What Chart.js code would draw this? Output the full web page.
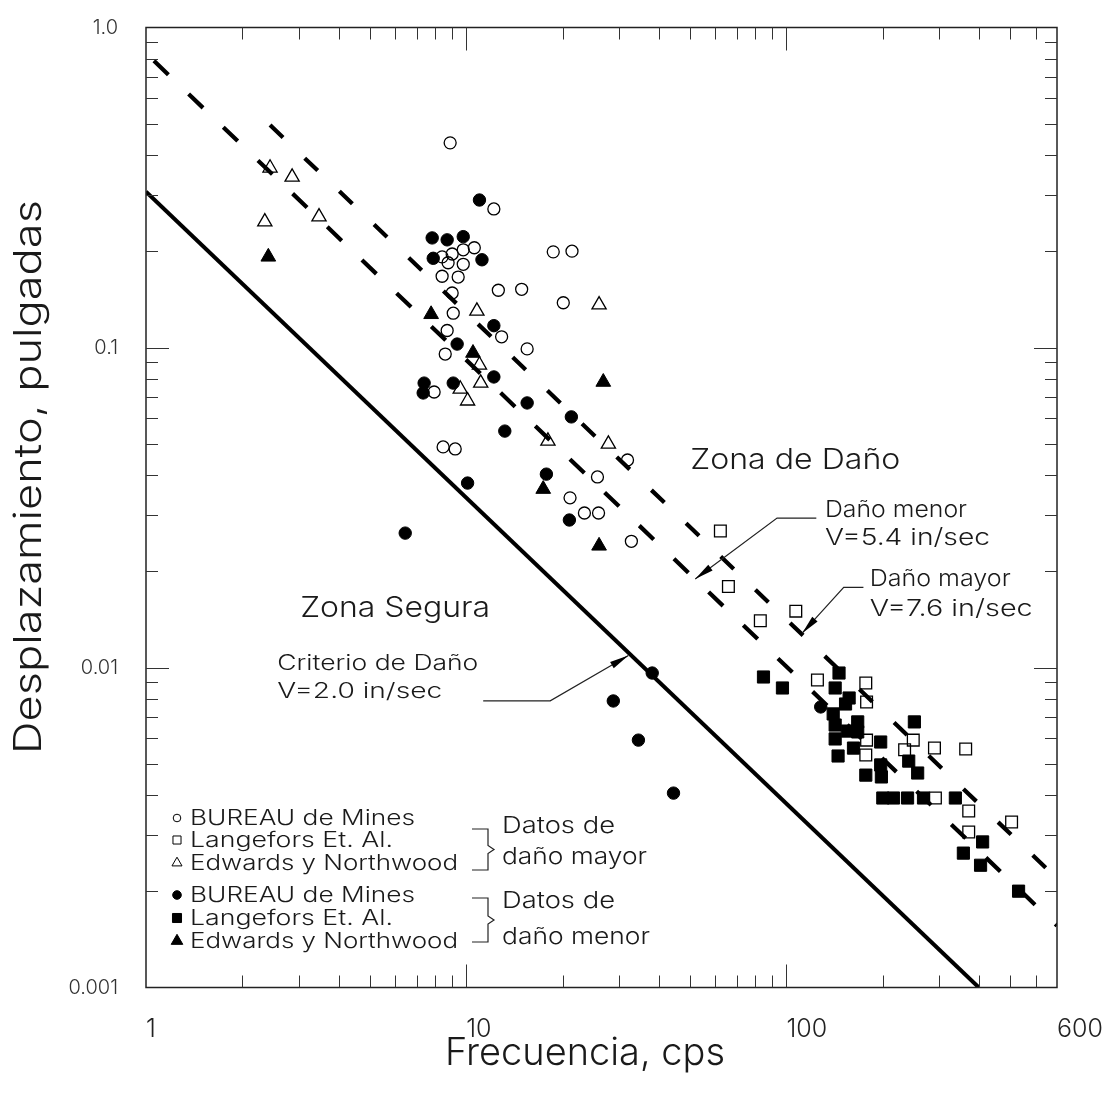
<!DOCTYPE html>
<html>
<head>
<meta charset="utf-8">
<script src="https://cdn.jsdelivr.net/npm/chart.js@4.4.1/dist/chart.umd.min.js"></script>
<style>
  html, body { margin: 0; padding: 0; background: #fff; }
  #wrap { width: 1112px; height: 1094px; position: relative; }
</style>
</head>
<body>
<div id="wrap"><canvas id="myChart"></canvas></div>
<script>
// frecuencia (cps) / desplazamiento (pulgadas)
const bureauMayorF = [8.91, 12.2, 18.7, 21.4, 8.41, 9.04, 9.79, 10.6, 8.78, 9.79, 8.41, 9.44, 9.04, 12.6, 14.9,
  20.1, 9.11, 8.72, 12.9, 15.5, 8.60, 7.94, 8.47, 9.24, 31.9, 25.7, 21.1, 23.4, 25.9, 32.8];
const bureauMayorD = [0.436, 0.271, 0.199, 0.200, 0.192, 0.196, 0.202, 0.205, 0.184, 0.182, 0.167, 0.166, 0.148, 0.151, 0.152,
  0.138, 0.128, 0.113, 0.108, 0.099, 0.0954, 0.0726, 0.0489, 0.0482, 0.0445, 0.0394, 0.0339, 0.0304, 0.0304, 0.0248];

const langeforsMayorF = [62.2, 65.9, 107, 82.9, 125, 177, 178, 178, 177, 234, 249, 290, 363, 292, 371, 371, 505];
const langeforsMayorD = [0.0267, 0.0179, 0.0150, 0.0140, 0.00914, 0.00895, 0.00780, 0.00593, 0.00533, 0.00553, 0.00593,
  0.00560, 0.00556, 0.00391, 0.00356, 0.00306, 0.00329];

const edwardsMayorF = [2.44, 2.86, 2.35, 3.47, 10.8, 26.0, 11.0, 11.1, 9.58, 10.1, 18.0, 27.8];
const edwardsMayorD = [0.364, 0.341, 0.247, 0.256, 0.130, 0.136, 0.0882, 0.0774, 0.0742, 0.0681, 0.0510, 0.0499];

const bureauMenorF = [11.0, 7.83, 8.72, 9.79, 7.89, 11.2, 12.2, 9.37, 7.39, 7.34, 9.11, 12.2, 15.5, 21.3, 13.2, 10.1,
  17.8, 21.0, 6.45, 38.1, 28.8, 34.5, 44.4, 128];
const bureauMenorD = [0.289, 0.220, 0.217, 0.222, 0.190, 0.188, 0.117, 0.1025, 0.0774, 0.0721, 0.0774, 0.0809, 0.0671,
  0.0607, 0.0548, 0.0377, 0.0402, 0.0289, 0.0263, 0.00961, 0.00786, 0.00593, 0.00405, 0.00753];

const langeforsMenorF = [84.8, 97.2, 146, 142, 157, 153, 140, 142, 167, 155, 167, 142, 197, 162, 145, 197, 177, 198,
  251, 241, 257, 200, 216, 239, 268, 337, 410, 357, 404, 531];
const langeforsMenorD = [0.00934, 0.00863, 0.00961, 0.00863, 0.00803, 0.00769, 0.00716, 0.00661, 0.00676, 0.00633,
  0.00629, 0.00598, 0.00585, 0.00560, 0.00529, 0.00496, 0.00461, 0.00455, 0.00676, 0.00510, 0.00468, 0.00391,
  0.00391, 0.00391, 0.00391, 0.00391, 0.00285, 0.00263, 0.00241, 0.00200];

const edwardsMenorF = [2.41, 7.77, 10.5, 26.8, 17.4, 26.0];
const edwardsMenorD = [0.192, 0.127, 0.0961, 0.0780, 0.0361, 0.0240];

// rectas de criterio
const criterioF = [1, 399];
const criterioD = [0.307, 0.001];
const menorF = [1, 700];
const menorD = [0.831, 0.00156];
const mayorF = [2.44, 700];
const mayorD = [0.496, 0.00219];

// escalas
const xTickVals = [1, 10, 100, 700];
const xTickLabels = ['1', '10', '100', '600'];
const yTickVals = [0.001, 0.01, 0.1, 1];
const yTickLabels = ['0.001', '0.01', '0.1', '1.0'];
const xMinorTicks = [2, 3, 4, 5, 6, 7, 8, 9, 20, 30, 40, 50, 60, 70, 80, 90, 200, 300, 400, 500, 600];
const xMajorTicks = [10, 100];
const yMinorTicks = [0.002, 0.003, 0.004, 0.005, 0.006, 0.007, 0.008, 0.009, 0.02, 0.03, 0.04, 0.05, 0.06, 0.07,
  0.08, 0.09, 0.2, 0.3, 0.4, 0.5, 0.6, 0.7, 0.8, 0.9];
const yMajorTicks = [0.01, 0.1];

const FONT = '"Inter", "DejaVu Sans", sans-serif';
const WEIGHT = '300';

function pts(fs, ds) {
  return fs.map((f, i) => ({x: f, y: ds[i]}));
}

// textos y flechas dentro del grafico (en unidades de los ejes); w = ancho en el original
const notas = [
  {f: 50.1, d: 0.0417, txt: 'Zona de Daño', size: 29, w: 210},
  {f: 3.03, d: 0.0144, txt: 'Zona Segura', size: 29, w: 190},
  {f: 132, d: 0.0295, txt: 'Daño menor', size: 23, w: 142},
  {f: 132, d: 0.0241, txt: 'V=5.4 in/sec', size: 23, w: 165},
  {f: 182, d: 0.0180, txt: 'Daño mayor', size: 23, w: 141},
  {f: 182, d: 0.0145, txt: 'V=7.6 in/sec', size: 23, w: 163},
  {f: 2.57, d: 0.00982, txt: 'Criterio de Daño', size: 21, w: 201},
  {f: 2.57, d: 0.00803, txt: 'V=2.0 in/sec', size: 21, w: 165}
];
const flechas = [
  [[124, 0.0293], [93.5, 0.0293], [51.9, 0.0189]],
  [[174, 0.0178], [151, 0.0178], [112, 0.0128]],
  [[11.3, 0.00787], [18.3, 0.00787], [32.1, 0.0109]]
];

const leyenda = [
  {style: 'circle', fill: false, r: 3.8, txt: 'BUREAU de Mines', y: 825, w: 225},
  {style: 'rect', fill: false, r: 5.7, txt: 'Langefors Et. Al.', y: 847, w: 203},
  {style: 'triangle', fill: false, r: 5.8, txt: 'Edwards y Northwood', y: 870, w: 268},
  {style: 'circle', fill: true, r: 4.3, txt: 'BUREAU de Mines', y: 902, w: 225},
  {style: 'rect', fill: true, r: 6.4, txt: 'Langefors Et. Al.', y: 925, w: 203},
  {style: 'triangle', fill: true, r: 6.7, txt: 'Edwards y Northwood', y: 948, w: 268}
];
const llaves = [
  {top: 829, bottom: 870, l1: 'Datos de', l2: 'daño mayor', y1: 833, y2: 864, w2: 145},
  {top: 898, bottom: 942, l1: 'Datos de', l2: 'daño menor', y1: 908, y2: 944, w2: 148}
];

// texto con el ancho ajustado al del original
function texto(ctx, txt, x, y, size, w) {
  ctx.font = `${WEIGHT} ${size}px ${FONT}`;
  const s = w ? w / ctx.measureText(txt).width : 1;
  ctx.save();
  ctx.translate(x, y);
  ctx.scale(s, 1);
  ctx.fillText(txt, 0, 0);
  ctx.restore();
}

const decor = {
  id: 'decor',
  afterDatasetsDraw(chart) {
    const {ctx, chartArea: a, scales} = chart;
    const px = f => scales.x.getPixelForValue(f);
    const py = d => scales.y.getPixelForValue(d);
    const seg = (x1, y1, x2, y2) => { ctx.beginPath(); ctx.moveTo(x1, y1); ctx.lineTo(x2, y2); ctx.stroke(); };
    ctx.save();

    // marco
    ctx.strokeStyle = '#222';
    ctx.lineWidth = 1.5;
    ctx.strokeRect(a.left, a.top, a.right - a.left, a.bottom - a.top);

    // marcas hacia adentro en los cuatro lados
    ctx.lineWidth = 1;
    ctx.strokeStyle = '#333';
    const xt = (v, len) => { const p = Math.round(px(v)) + 0.5; seg(p, a.bottom, p, a.bottom - len); seg(p, a.top, p, a.top + len); };
    const yt = (v, len) => { const p = Math.round(py(v)) + 0.5; seg(a.left, p, a.left + len, p); seg(a.right, p, a.right - len, p); };
    xMinorTicks.forEach(v => xt(v, 12));
    xMajorTicks.forEach(v => xt(v, 23));
    yMinorTicks.forEach(v => yt(v, 12));
    yMajorTicks.forEach(v => yt(v, 23));

    // textos
    ctx.fillStyle = '#1a1a1a';
    ctx.textAlign = 'left';
    ctx.textBaseline = 'alphabetic';
    notas.forEach(n => texto(ctx, n.txt, px(n.f), py(n.d), n.size, n.w));

    // flechas
    ctx.strokeStyle = '#222';
    ctx.lineWidth = 1.2;
    flechas.forEach(fl => {
      const p = fl.map(q => [px(q[0]), py(q[1])]);
      ctx.beginPath();
      ctx.moveTo(p[0][0], p[0][1]);
      p.slice(1).forEach(q => ctx.lineTo(q[0], q[1]));
      ctx.stroke();
      const [tx, ty] = p[p.length - 1];
      const [sx, sy] = p[p.length - 2];
      const ang = Math.atan2(ty - sy, tx - sx);
      ctx.save();
      ctx.translate(tx, ty);
      ctx.rotate(ang);
      ctx.beginPath();
      ctx.moveTo(0, 0);
      ctx.lineTo(-19, -3.6);
      ctx.lineTo(-19, 3.6);
      ctx.closePath();
      ctx.fillStyle = '#000';
      ctx.fill();
      ctx.restore();
    });

    // leyenda
    leyenda.forEach(l => {
      ctx.fillStyle = l.fill ? '#000' : 'rgba(0,0,0,0)';
      ctx.strokeStyle = '#000';
      ctx.lineWidth = 1;
      Chart.helpers.drawPoint(ctx, {pointStyle: l.style, radius: l.r, borderWidth: 1, rotation: 0}, 177, l.y - 7);
      ctx.fillStyle = '#1a1a1a';
      texto(ctx, l.txt, 190, l.y, 21, l.w);
    });
    ctx.strokeStyle = '#222';
    ctx.lineWidth = 1.2;
    llaves.forEach(k => {
      const mid = (k.top + k.bottom) / 2;
      ctx.beginPath();
      ctx.moveTo(472, k.top);
      ctx.lineTo(488, k.top);
      ctx.lineTo(488, mid - 4);
      ctx.lineTo(494, mid);
      ctx.lineTo(488, mid + 4);
      ctx.lineTo(488, k.bottom);
      ctx.lineTo(472, k.bottom);
      ctx.stroke();
      ctx.fillStyle = '#1a1a1a';
      texto(ctx, k.l1, 502, k.y1, 23, 113);
      texto(ctx, k.l2, 502, k.y2, 23, k.w2);
    });

    // titulos de los ejes
    ctx.fillStyle = '#1a1a1a';
    texto(ctx, 'Frecuencia, cps', 445, 1065, 38, 280);
    ctx.save();
    ctx.translate(30, 477);
    ctx.rotate(-Math.PI / 2);
    ctx.textBaseline = 'middle';
    texto(ctx, 'Desplazamiento, pulgadas', -277, 0, 38, 554);
    ctx.restore();

    ctx.restore();
  }
};

const abierto = {showLine: false, borderColor: '#000', backgroundColor: 'rgba(0,0,0,0)', borderWidth: 1.3};
const lleno = {showLine: false, borderColor: '#000', backgroundColor: '#000', borderWidth: 1};

const chart = new Chart(document.getElementById('myChart'), {
  type: 'scatter',
  data: {
    datasets: [
      {label: 'V=2.0 in/sec', data: pts(criterioF, criterioD), showLine: true, borderColor: '#000', borderWidth: 4, pointRadius: 0},
      {label: 'V=5.4 in/sec', data: pts(menorF, menorD), showLine: true, borderColor: '#000', borderWidth: 4.2,
        borderDash: [20, 28], borderDashOffset: 37, pointRadius: 0},
      {label: 'V=7.6 in/sec', data: pts(mayorF, mayorD), showLine: true, borderColor: '#000', borderWidth: 4.2,
        borderDash: [18, 30], pointRadius: 0},
      {label: 'BUREAU de Mines (mayor)', data: pts(bureauMayorF, bureauMayorD), ...abierto, pointStyle: 'circle', pointRadius: 6},
      {label: 'Langefors Et. Al. (mayor)', data: pts(langeforsMayorF, langeforsMayorD), ...abierto, pointStyle: 'rect', pointRadius: 8.3},
      {label: 'Edwards y Northwood (mayor)', data: pts(edwardsMayorF, edwardsMayorD), ...abierto, pointStyle: 'triangle', pointRadius: 8.2},
      {label: 'BUREAU de Mines (menor)', data: pts(bureauMenorF, bureauMenorD), ...lleno, pointStyle: 'circle', pointRadius: 6.2},
      {label: 'Langefors Et. Al. (menor)', data: pts(langeforsMenorF, langeforsMenorD), ...lleno, pointStyle: 'rect', pointRadius: 8.6},
      {label: 'Edwards y Northwood (menor)', data: pts(edwardsMenorF, edwardsMenorD), ...lleno, pointStyle: 'triangle', pointRadius: 8.5}
    ]
  },
  options: {
    responsive: true,
    maintainAspectRatio: false,
    animation: false,
    layout: {padding: {top: 27.5, right: 55, bottom: 0, left: 0}},
    plugins: {legend: {display: false}, tooltip: {enabled: false}},
    scales: {
      x: {
        type: 'logarithmic', min: 1, max: 700, position: 'bottom',
        grid: {display: false, drawTicks: true, tickLength: 27}, border: {display: false},
        afterBuildTicks: s => { s.ticks = xTickVals.map(v => ({value: v})); },
        afterFit: s => { s.height = 106.5; },
        ticks: {
          align: 'start', padding: 0, maxRotation: 0, autoSkip: false, color: '#222',
          font: {family: FONT, size: 25, weight: WEIGHT},
          callback: (v, i) => xTickLabels[i]
        }
      },
      y: {
        type: 'logarithmic', min: 0.001, max: 1, position: 'left',
        grid: {display: false, drawTicks: true, tickLength: 28}, border: {display: false},
        afterBuildTicks: s => { s.ticks = yTickVals.map(v => ({value: v})); },
        afterFit: s => { s.width = 146; },
        ticks: {
          padding: 0, autoSkip: false, color: '#333',
          font: {family: FONT, size: 20, weight: WEIGHT},
          callback: (v, i) => yTickLabels[i]
        }
      }
    }
  },
  plugins: [decor]
});

// ajustar el area del grafico al marco del original
for (let k = 0; k < 3; k++) {
  const a = chart.chartArea;
  const p = chart.options.layout.padding;
  p.top = Math.max(0, p.top + 27.5 - a.top);
  p.right = Math.max(0, p.right + a.right - 1057);
  chart.update();
}
</script>
</body>
</html>
